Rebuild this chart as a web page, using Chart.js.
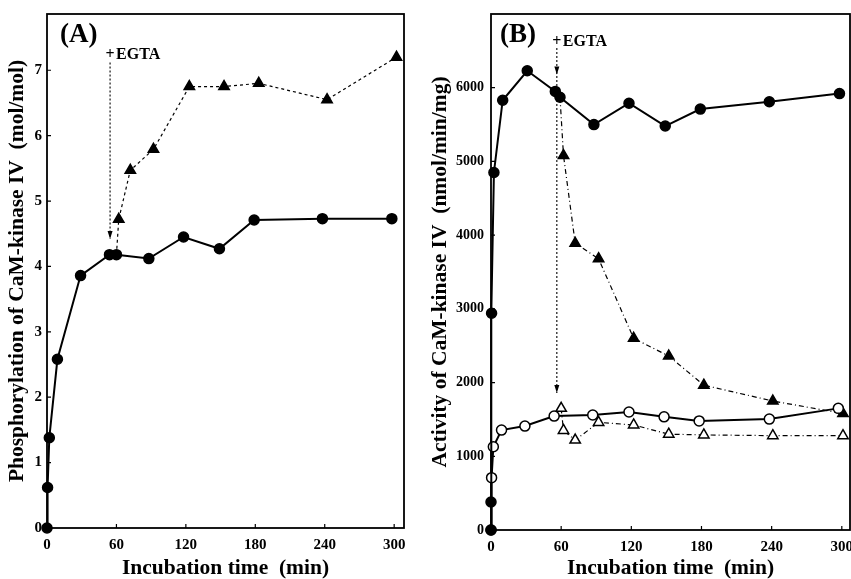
<!DOCTYPE html>
<html>
<head>
<meta charset="utf-8">
<script src="https://cdn.jsdelivr.net/npm/chart.js@4.4.1/dist/chart.umd.min.js"></script>
<style>
  html, body { margin: 0; padding: 0; background: #fff; }
  #wrap { position: relative; width: 851px; height: 579px; overflow: hidden; }
  #cA { position: absolute; left: 0; top: 0; }
  #cB { position: absolute; left: 425px; top: 0; }
</style>
</head>
<body>
<div id="wrap">
  <canvas id="cA" width="425" height="579"></canvas>
  <canvas id="cB" width="426" height="579"></canvas>
</div>
<script>
// ── tick labels ─────────────────────────────────────────
const X_TICKS   = [0, 60, 120, 180, 240, 300];
const A_Y_TICKS = [0, 1, 2, 3, 4, 5, 6, 7];
const B_Y_TICKS = [0, 1000, 2000, 3000, 4000, 5000, 6000];

// ── panel A : phosphorylation (mol/mol) ─────────────────
const A_CIRC_T = [0, 0.5, 2, 9, 29, 54, 60, 88, 118, 149, 179, 238, 298];
const A_CIRC_Y = [0, 0.62, 1.38, 2.58, 3.86, 4.18, 4.18, 4.12, 4.45, 4.27, 4.71, 4.73, 4.73];
const A_TRI_T  = [60, 62, 72, 92, 123, 153, 183, 242, 302];
const A_TRI_Y  = [4.18, 4.72, 5.47, 5.79, 6.75, 6.75, 6.80, 6.55, 7.20];

// ── panel B : activity (nmol/min/mg) ────────────────────
const B_CIRC_T  = [0, 0, 0.5, 2.5, 10, 31, 55, 59, 88, 118, 149, 179, 238, 298];
const B_CIRC_Y  = [0, 380, 2940, 4850, 5830, 6230, 5950, 5870, 5500, 5790, 5480, 5710, 5810, 5920];
const B_OCIRC_T = [0, 0.5, 2, 9, 29, 54, 87, 118, 148, 178, 238, 297];
const B_OCIRC_Y = [0, 710, 1130, 1355, 1410, 1545, 1560, 1600, 1535, 1480, 1505, 1650];
const B_TRI_T   = [59, 62, 72, 92, 122, 152, 182, 241, 301];
const B_TRI_Y   = [5870, 5080, 3890, 3680, 2600, 2360, 1965, 1750, 1580];
const B_OTRI_T  = [60, 62, 72, 92, 122, 152, 182, 241, 301];
const B_OTRI_Y  = [1650, 1350, 1220, 1460, 1425, 1300, 1290, 1280, 1280];

const SERIF = '"Liberation Serif", "DejaVu Serif", serif';

function pts(ts, ys) { return ts.map((t, i) => ({ x: t, y: ys[i] })); }

// ── frame + inward ticks ────────────────────────────────
const framePlugin = {
  id: 'frame',
  beforeDatasetsDraw(chart) {
    const { ctx, chartArea: a, scales: { x, y } } = chart;
    ctx.save();
    ctx.strokeStyle = '#000';
    ctx.lineWidth = 1.8;
    ctx.strokeRect(a.left, a.top, a.right - a.left, a.bottom - a.top);
    ctx.lineWidth = 1.2;
    ctx.beginPath();
    x.ticks.forEach(t => {
      const p = x.getPixelForValue(t.value);
      ctx.moveTo(p, a.bottom); ctx.lineTo(p, a.bottom - 4);
    });
    y.ticks.forEach(t => {
      const p = y.getPixelForValue(t.value);
      ctx.moveTo(a.left, p); ctx.lineTo(a.left + 4, p);
    });
    ctx.stroke();
    ctx.restore();
  }
};

// ── EGTA arrow + panel letter ───────────────────────────
const notePlugin = {
  id: 'note',
  afterDatasetsDraw(chart, args, o) {
    const { ctx, chartArea: a, scales: { x, y } } = chart;
    const px = x.getPixelForValue(o.x);
    ctx.save();
    ctx.strokeStyle = '#000';
    ctx.fillStyle = '#000';
    ctx.lineWidth = 1.1;
    ctx.setLineDash([2, 2]);
    ctx.beginPath();
    ctx.moveTo(px, y.getPixelForValue(o.from));
    ctx.lineTo(px, y.getPixelForValue(o.to));
    ctx.stroke();
    ctx.setLineDash([]);
    o.heads.forEach(h => {
      const py = y.getPixelForValue(h);
      ctx.beginPath();
      ctx.moveTo(px - 2.5, py - 8);
      ctx.lineTo(px + 2.5, py - 8);
      ctx.lineTo(px, py);
      ctx.closePath();
      ctx.fill();
    });
    ctx.font = 'bold 16px ' + SERIF;
    ctx.textBaseline = 'alphabetic';
    const ly = y.getPixelForValue(o.labelY) + 5.5;
    ctx.textAlign = 'center';
    ctx.fillText('+', px, ly);
    ctx.textAlign = 'left';
    ctx.fillText('EGTA', px + 6, ly);
    ctx.font = 'bold 27px ' + SERIF;
    ctx.textBaseline = 'middle';
    ctx.fillText(o.panel, a.left + o.panelDx, a.top + 21);
    ctx.restore();
  }
};

function lineSet(data, opts) {
  return Object.assign({
    data,
    borderColor: '#000',
    pointBorderColor: '#000',
    pointBorderWidth: 1.5,
    borderWidth: 2,
    tension: 0,
    clip: false,
    pointRadius: 5
  }, opts);
}

function makeChart(id, cfg) {
  return new Chart(document.getElementById(id), {
    type: 'line',
    data: { datasets: cfg.datasets },
    options: {
      responsive: false,
      animation: false,
      layout: { autoPadding: false, padding: { top: 14, right: cfg.padRight, left: 0, bottom: 0 } },
      plugins: { legend: { display: false }, tooltip: { enabled: false }, note: cfg.note },
      scales: {
        x: {
          type: 'linear', min: 0, max: cfg.xMax,
          afterBuildTicks: s => { s.ticks = X_TICKS.map(v => ({ value: v })); },
          afterFit: s => { s.height = cfg.xAxisH; s.paddingLeft = 0; s.paddingRight = 0; },
          grid: { display: false, drawTicks: false },
          border: { display: false },
          ticks: {
            padding: 8, color: '#000', maxRotation: 0,
            font: { family: SERIF, size: 15, weight: 'bold' },
            callback: v => String(v)
          },
          title: {
            display: true, text: 'Incubation time  (min)', color: '#000',
            font: { family: SERIF, size: 21.5, weight: 'bold', lineHeight: 1 },
            padding: { top: 0, bottom: 0 }
          }
        },
        y: {
          type: 'linear', min: 0, max: cfg.yMax,
          afterBuildTicks: s => { s.ticks = cfg.yTicks.map(v => ({ value: v })); },
          afterFit: s => { s.width = cfg.yAxisW; s.paddingTop = 0; s.paddingBottom = 0; },
          grid: { display: false, drawTicks: false },
          border: { display: false },
          ticks: {
            padding: cfg.yTickPad, color: '#000',
            font: { family: SERIF, size: cfg.yTickSize, weight: 'bold' },
            callback: v => String(v)
          },
          title: {
            display: true, text: cfg.yTitle, color: '#000',
            font: { family: SERIF, size: 21.5, weight: 'bold', lineHeight: 1 },
            padding: { top: cfg.yTitlePad, bottom: 0 }
          }
        }
      }
    },
    plugins: [framePlugin, notePlugin]
  });
}

// ── panel A ─────────────────────────────────────────────
makeChart('cA', {
  xMax: 308.5, yMax: 7.86, yTicks: A_Y_TICKS,
  padRight: 21, xAxisH: 51, yAxisW: 47, yTickPad: 5, yTickSize: 15, yTitlePad: 6.75,
  yTitle: 'Phosphorylation of CaM-kinase IV  (mol/mol)',
  note: { x: 54.5, from: 7.12, to: 4.42, heads: [4.42], labelY: 7.26, panel: '(A)', panelDx: 13 },
  datasets: [
    lineSet(pts(A_CIRC_T, A_CIRC_Y), { pointStyle: 'circle', pointBackgroundColor: '#000', order: 1 }),
    lineSet(pts(A_TRI_T, A_TRI_Y), {
      pointStyle: 'triangle', pointBackgroundColor: '#000', borderWidth: 1.2, borderDash: [3, 3],
      pointRadius: A_TRI_T.map((t, i) => i === 0 ? 0 : 6), order: 2
    })
  ]
});

// ── panel B ─────────────────────────────────────────────
makeChart('cB', {
  xMax: 307, yMax: 7000, yTicks: B_Y_TICKS,
  padRight: 1, xAxisH: 49, yAxisW: 66, yTickPad: 7, yTickSize: 14, yTitlePad: 4.25,
  yTitle: 'Activity of CaM-kinase IV  (nmol/min/mg)',
  note: { x: 56.3, from: 6540, to: 1860, heads: [6180, 1860], labelY: 6640, panel: '(B)', panelDx: 9 },
  datasets: [
    lineSet(pts(B_CIRC_T, B_CIRC_Y), { pointStyle: 'circle', pointBackgroundColor: '#000', order: 1 }),
    lineSet(pts(B_OCIRC_T, B_OCIRC_Y), { pointStyle: 'circle', pointBackgroundColor: '#fff', order: 2 }),
    lineSet(pts(B_TRI_T, B_TRI_Y), {
      pointStyle: 'triangle', pointBackgroundColor: '#000', borderWidth: 1.2, borderDash: [5, 3, 1, 3],
      pointRadius: B_TRI_T.map((t, i) => i === 0 ? 0 : 6), order: 3
    }),
    lineSet(pts(B_OTRI_T, B_OTRI_Y), {
      pointStyle: 'triangle', pointBackgroundColor: '#fff', borderWidth: 1.2, borderDash: [5, 3, 1, 3],
      pointRadius: 6, order: 4
    })
  ]
});
</script>
</body>
</html>
